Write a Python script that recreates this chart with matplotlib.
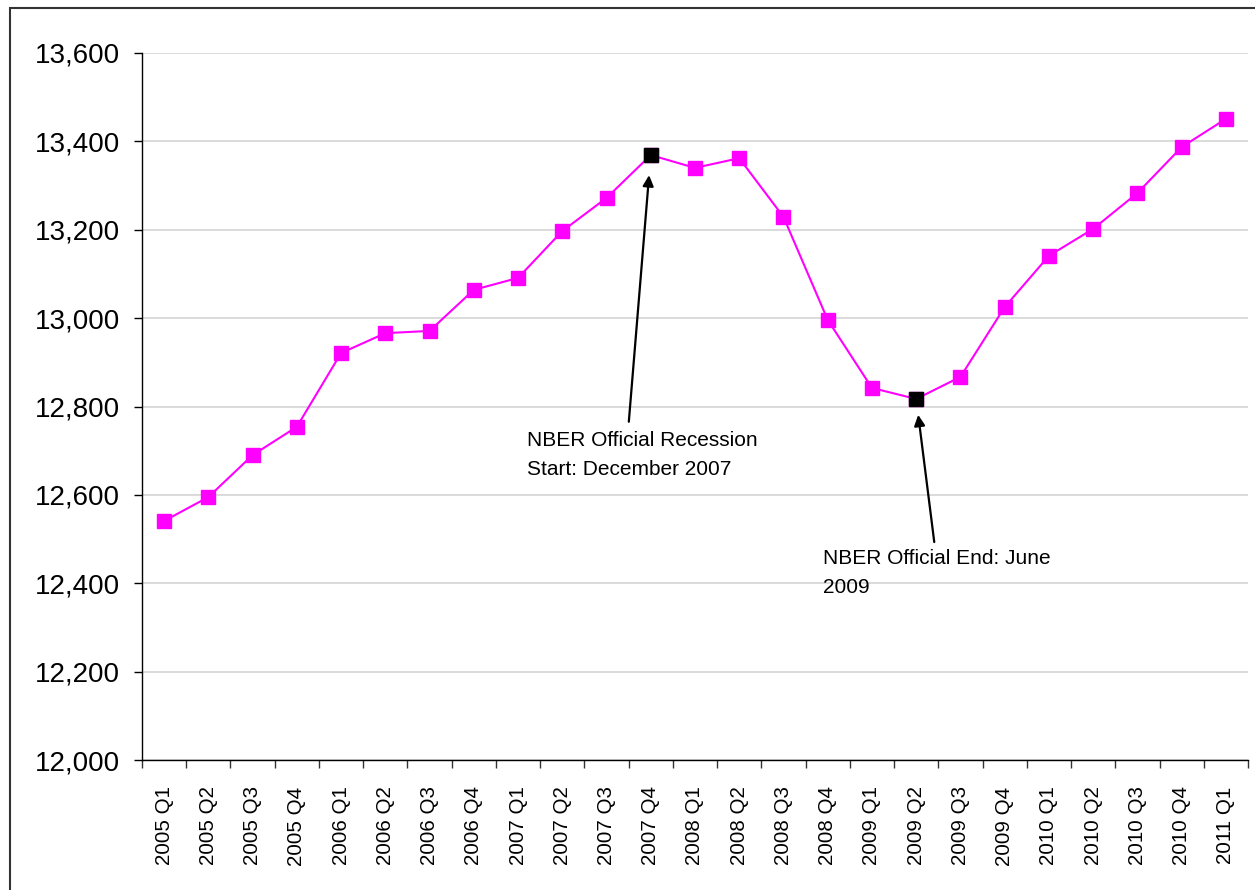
import matplotlib
matplotlib.use("Agg")
import matplotlib.pyplot as plt
from matplotlib.patches import Rectangle
from matplotlib.ticker import FuncFormatter, FixedLocator
import numpy as np

plt.rcParams["font.family"] = ["Liberation Sans", "DejaVu Sans"]

# quarterly values
quarters = [
    "2005 Q1", "2005 Q2", "2005 Q3", "2005 Q4",
    "2006 Q1", "2006 Q2", "2006 Q3", "2006 Q4",
    "2007 Q1", "2007 Q2", "2007 Q3", "2007 Q4",
    "2008 Q1", "2008 Q2", "2008 Q3", "2008 Q4",
    "2009 Q1", "2009 Q2", "2009 Q3", "2009 Q4",
    "2010 Q1", "2010 Q2", "2010 Q3", "2010 Q4",
    "2011 Q1",
]
gdp = [
    12541, 12595, 12690, 12754,
    12921, 12966, 12971, 13064,
    13091, 13197, 13272, 13369,
    13340, 13362, 13229, 12996,
    12842, 12817, 12867, 13025,
    13141, 13202, 13283, 13387,
    13451,
]
highlight = ["2007 Q4", "2009 Q2"]
notes = ["NBER Official Recession\nStart: December 2007",
         "NBER Official End: June\n2009"]
y_ticks = list(range(12000, 13601, 200))

fig = plt.figure(figsize=(12.55, 8.90), dpi=100)
ax = fig.add_axes([142 / 1255, 1 - 760 / 890, 1106 / 1255, 707 / 890])

x = np.arange(len(quarters))
ax.plot(x, gdp, color="#FF00FF", lw=1.5, marker="s", ms=9.5,
        mec="#FF00FF", mfc="#FF00FF", zorder=3)
hi = [quarters.index(q) for q in highlight]
ax.plot(hi, [gdp[i] for i in hi], ls="none", marker="s", ms=9.5,
        color="black", zorder=4)

ax.set_xlim(-0.5, len(quarters) - 0.5)
ax.set_ylim(y_ticks[0], y_ticks[-1])
ax.set_yticks(y_ticks)
ax.yaxis.set_major_formatter(FuncFormatter(lambda v, p: f"{int(v):,}"))
ax.tick_params(axis="y", labelsize=20, length=6, width=1, pad=10,
               colors="black")
ax.yaxis.grid(True, color="#D4D4D4", lw=1.2)
ax.set_axisbelow(True)

ax.set_xticks(x)
ax.set_xticklabels(quarters, rotation=90, fontsize=14.8)
ax.tick_params(axis="x", which="major", length=0, pad=19)
ax.xaxis.set_minor_locator(FixedLocator(np.arange(len(quarters) + 1) - 0.5))
ax.tick_params(axis="x", which="minor", length=6, width=1, color="#333333")

for s in ["top", "right"]:
    ax.spines[s].set_visible(False)
for s in ["left", "bottom"]:
    ax.spines[s].set_color("black")
    ax.spines[s].set_linewidth(1)

# arrows and notes at the two NBER dates
arrow_offsets = [((-15.8, -192), 14.5), ((13, -103), 11.5)]
text_offsets = [(-89, -199), (-67, -108)]
for i, note, (tail, shrink), toff in zip(hi, notes, arrow_offsets, text_offsets):
    ax.annotate("", xy=(i, gdp[i]), xytext=tail, textcoords="offset points",
                arrowprops=dict(arrowstyle="-|>", color="black", lw=1.6,
                                shrinkA=0, shrinkB=shrink,
                                mutation_scale=16))
    ax.annotate(note, xy=(i, gdp[i]), xytext=toff, textcoords="offset points",
                ha="left", va="top", fontsize=15, linespacing=1.65)

# outer frame, cut off at right and bottom like the source
fig.add_artist(Rectangle((10 / 1255, -0.1), 1.2, 1 - 8 / 890 + 0.1,
                         transform=fig.transFigure, fill=False,
                         ec="#333333", lw=1.5, clip_on=False))

fig.savefig("out.png", dpi=100)
